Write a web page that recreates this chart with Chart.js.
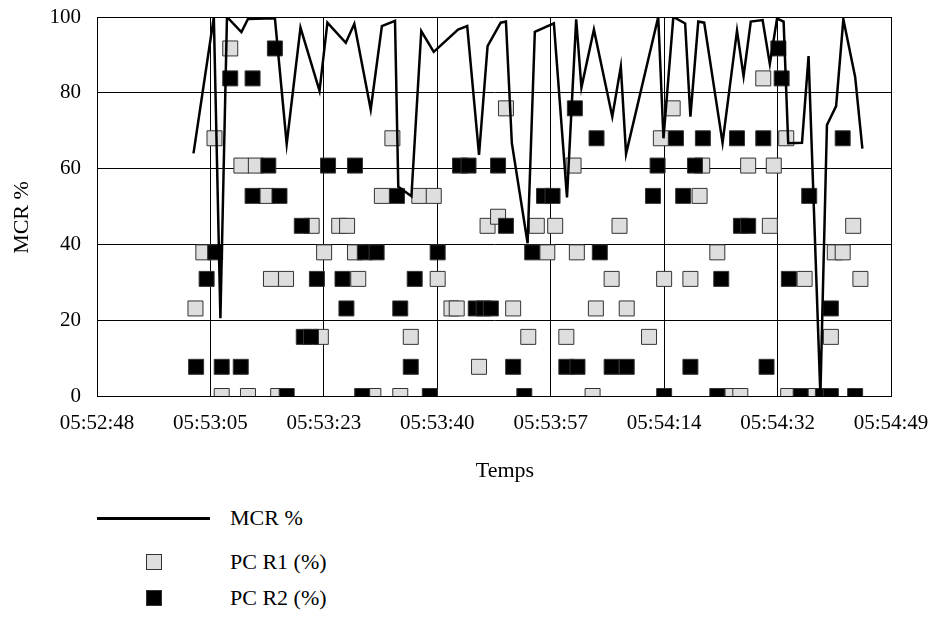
<!DOCTYPE html>
<html>
<head>
<meta charset="utf-8">
<script src="https://cdn.jsdelivr.net/npm/chart.js@4.4.1/dist/chart.umd.min.js"></script>
<style>
  body { margin: 0; background: #fff; }
  #wrap { position: relative; width: 931px; height: 643px; font-family: 'Liberation Serif', 'Times New Roman', serif; }
  #chartBox { position: absolute; left: 0; top: 0; width: 931px; height: 500px; }
  .lg-text { position: absolute; left: 230px; font-size: 22px; line-height: 26px; color: #000; }
  .lg-line { position: absolute; left: 97px; width: 113px; height: 3px; background: #000; }
  .lg-box { position: absolute; left: 146px; width: 14px; height: 14px; border: 1px solid #333; }
</style>
</head>
<body>
<div id="wrap">
  <div id="chartBox"><canvas id="mcrChart" width="931" height="500"></canvas></div>
  <div class="lg-line" style="top:517px"></div>
  <div class="lg-text" style="top:505px">MCR %</div>
  <div class="lg-box" style="top:554px;background:#dedede"></div>
  <div class="lg-text" style="top:549px">PC R1 (%)</div>
  <div class="lg-box" style="top:590px;background:#000"></div>
  <div class="lg-text" style="top:585px">PC R2 (%)</div>
</div>
<script>
// seconds after 05:52:48 (axis start)
const tickLabels = ['05:52:48', '05:53:05', '05:53:23', '05:53:40', '05:53:57', '05:54:14', '05:54:32', '05:54:49'];
const tickStep = 17.28;

const mcrTime = [14.7, 17.8, 18.8, 19.8, 22.0, 23.0, 27.1, 28.9, 31.0, 33.9, 35.1, 37.9, 39.2, 41.7, 43.4, 45.4, 45.9, 47.9, 49.4, 51.3,
  55.0, 56.4, 58.2, 59.5, 61.5, 62.3, 63.2, 65.6, 66.7, 69.6, 71.6, 73.0, 73.8, 75.7, 78.5, 79.8, 80.6, 85.5, 86.3, 87.8,
  89.6, 90.4, 91.6, 92.5, 95.3, 97.5, 98.5, 99.6, 101.4, 102.5, 103.6, 104.6, 105.3, 107.4, 108.4, 110.2, 111.2, 112.6, 113.7, 115.5, 116.6];
const mcrValue = [64, 100, 20.5, 100, 96, 99.5, 99.7, 66.5, 97.2, 80.5, 98.5, 93.2, 98.2, 75.6, 97.6, 99, 55.2, 52.7, 96.3, 90.8,
  96.7, 97.6, 63.6, 92.3, 98.5, 98.8, 66.7, 40.3, 96.1, 98.3, 52.4, 99.4, 81.4, 96.7, 73.7, 86.9, 63.9, 100, 68, 100,
  98.3, 73.7, 98.8, 98.5, 66.8, 96.4, 84.4, 98.8, 99.2, 87.6, 99.6, 98.8, 66.7, 66.8, 89.7, 0.3, 71.5, 76.5, 99.4, 84.2, 65.3];

const r1Time = [15.0, 16.2, 17.9, 19.0, 20.3, 22.0, 23.0, 24.2, 25.7, 26.5, 27.6, 28.8, 32.7, 34.1, 34.6, 36.9, 38.1, 39.3, 39.8, 42.1,
  43.4, 45.0, 46.2, 47.8, 49.1, 51.3, 51.9, 54.0, 54.8, 58.2, 59.5, 61.1, 62.3, 63.4, 65.7, 67.0, 68.6, 69.8, 71.5, 72.6,
  73.1, 75.5, 76.0, 78.4, 79.6, 80.7, 84.1, 85.9, 86.4, 87.7, 90.4, 91.8, 92.2, 94.5, 95.7, 96.8, 98.0, 99.2, 101.5, 102.5,
  103.1, 105.0, 105.3, 107.8, 108.3, 111.8, 112.4, 113.6, 115.2, 116.3];
const r1Value = [23.1, 37.9, 68, 0, 91.7, 60.8, 0, 60.8, 52.8, 30.9, 0, 30.9, 44.9, 15.6, 37.9, 44.9, 44.9, 37.9, 30.9, 0,
  52.8, 68, 0, 15.6, 52.8, 52.8, 30.9, 23.1, 23.1, 7.7, 44.9, 47.3, 75.9, 23.1, 15.6, 44.9, 37.9, 44.9, 15.6, 60.8,
  37.9, 0, 23.1, 30.9, 44.9, 23.1, 15.6, 68, 30.9, 75.9, 30.9, 52.8, 60.8, 37.9, 0, 0, 0, 60.8, 83.8, 44.9,
  60.8, 68, 0, 30.9, 0, 15.6, 37.9, 37.9, 44.9, 30.9];

const r2Time = [15.1, 16.7, 18.0, 19.0, 20.3, 21.9, 23.7, 23.7, 26.1, 27.1, 27.8, 28.9, 31.2, 31.5, 32.6, 33.5, 35.2, 37.4, 38.0, 39.3,
  40.4, 40.8, 42.6, 45.7, 46.2, 47.8, 48.4, 50.7, 51.9, 55.3, 56.6, 57.7, 58.9, 60.0, 61.1, 62.3, 63.4, 65.1, 66.3, 68.1,
  69.4, 71.5, 72.8, 73.2, 76.1, 76.6, 78.4, 80.7, 84.7, 85.4, 86.4, 88.2, 89.3, 90.4, 91.1, 92.3, 94.5, 95.1, 97.5, 98.1,
  99.2, 101.5, 102.0, 103.8, 104.3, 105.4, 107.2, 108.5, 110.6, 111.8, 111.8, 113.6, 115.5];
const r2Value = [7.7, 30.9, 37.9, 7.7, 83.8, 7.7, 83.8, 52.8, 60.8, 91.7, 52.8, 0, 44.9, 15.6, 15.6, 30.9, 60.8, 30.9, 23.1, 60.8,
  0, 37.9, 37.9, 52.8, 23.1, 7.7, 30.9, 0, 37.9, 60.8, 60.8, 23.1, 23.1, 23.1, 60.8, 44.9, 7.7, 0, 37.9, 52.8,
  52.8, 7.7, 75.9, 7.7, 68, 37.9, 7.7, 7.7, 52.8, 60.8, 0, 68, 52.8, 7.7, 60.8, 68, 0, 30.9, 68, 44.9,
  44.9, 68, 7.7, 91.7, 83.8, 30.9, 0, 52.8, 0, 0, 23.1, 68, 0];

const pairs = (xs, ys) => xs.map((x, i) => ({ x, y: ys[i] }));
const font = { family: "'Liberation Serif', 'Times New Roman', serif", size: 21 };
const xMax = tickStep * (tickLabels.length - 1);

const ctx = document.getElementById('mcrChart').getContext('2d');
new Chart(ctx, {
  type: 'scatter',
  data: {
    datasets: [
      {
        label: 'MCR %',
        type: 'line',
        data: pairs(mcrTime, mcrValue),
        borderColor: '#000',
        borderWidth: 2.5,
        pointRadius: 0,
        tension: 0,
        fill: false,
        order: 0
      },
      {
        label: 'PC R1 (%)',
        data: pairs(r1Time, r1Value),
        pointStyle: 'rect',
        pointRadius: 10.6,
        backgroundColor: '#dedede',
        borderColor: '#333',
        borderWidth: 1,
        order: 2
      },
      {
        label: 'PC R2 (%)',
        data: pairs(r2Time, r2Value),
        pointStyle: 'rect',
        pointRadius: 10.6,
        backgroundColor: '#000',
        borderColor: '#333',
        borderWidth: 1,
        order: 1
      }
    ]
  },
  options: {
    responsive: false,
    animation: false,
    layout: { padding: { top: 17, right: 40, bottom: 0, left: 0 } },
    plugins: { legend: { display: false }, tooltip: { enabled: false } },
    scales: {
      x: {
        type: 'linear',
        min: 0,
        max: xMax,
        afterBuildTicks: scale => { scale.ticks = tickLabels.map((_, i) => ({ value: i * tickStep })); },
        afterFit: scale => {
          scale.height = 104;
          scale.paddingLeft = 0;
          scale.paddingRight = 0;
        },
        ticks: {
          autoSkip: false, maxRotation: 0, padding: 15, color: '#000', font,
          callback: (v, i) => tickLabels[i]
        },
        grid: { color: '#000', lineWidth: 1, drawTicks: false },
        border: { display: true, color: '#000', width: 1 },
        // leading spaces nudge the title right, as in the original
        title: { display: true, text: '    Temps', color: '#000', font: { family: font.family, size: 22 }, padding: { top: 0, bottom: 16 } }
      },
      y: {
        min: 0,
        max: 100,
        afterFit: scale => {
          scale.width = 97;
          scale.paddingTop = 0;
          scale.paddingBottom = 0;
        },
        ticks: { stepSize: 20, padding: 16, color: '#000', font },
        grid: { color: '#000', lineWidth: 1, drawTicks: false },
        border: { display: true, color: '#000', width: 1 },
        title: { display: true, text: 'MCR %    ', color: '#000', font: { family: font.family, size: 22 }, padding: { top: 9, bottom: 0 } }
      }
    }
  }
});
</script>
</body>
</html>
